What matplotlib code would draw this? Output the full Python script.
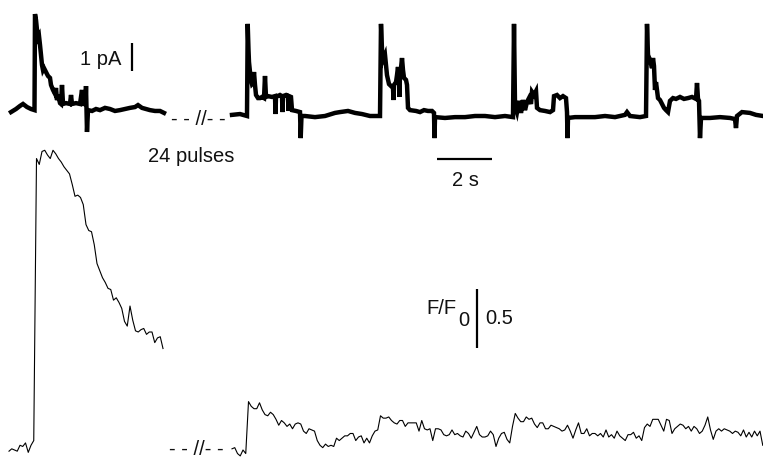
import numpy as np
import matplotlib
matplotlib.use("Agg")
import matplotlib.pyplot as plt

# ---------------- data ----------------
# Single-channel current, left segment (time s from segment start, current pA)
cur_left_t = [0.073, 0.255, 0.40, 0.509, 0.655, 0.80, 0.927,
              0.945, 0.982, 1.018, 1.055, 1.091, 1.127, 1.164, 1.20, 1.236, 1.273,
              1.345, 1.418, 1.491, 1.527, 1.60, 1.673, 1.709, 1.745, 1.782, 1.855,
              1.891, 1.927, 1.964, 2.073, 2.218, 2.255, 2.291, 2.436, 2.582, 2.655,
              2.691, 2.782, 2.80, 2.836, 2.873, 3.018, 3.164, 3.309, 3.491, 3.673,
              3.855, 4.036, 4.218, 4.40, 4.582, 4.691, 4.836, 4.982, 5.127, 5.309,
              5.491, 5.636]
cur_left_pA = [0.14, 0.25, 0.36, 0.43, 0.32, 0.25, 0.21,
               3.64, 3.43, 3.07, 2.79, 2.86, 2.54, 2.18, 1.82, 1.64, 1.71,
               1.57, 1.43, 1.36, 1.11, 0.93, 0.79, 1.00, 0.57, 0.75, 0.46,
               0.43, 1.11, 0.43, 0.46, 0.43, 0.75, 0.43, 0.46, 0.43, 0.93,
               0.43, 0.43, 1.07, -0.57, 0.21, 0.18, 0.25, 0.21, 0.29, 0.25,
               0.18, 0.21, 0.25, 0.29, 0.32, 0.39, 0.29, 0.25, 0.21, 0.18,
               0.18, 0.11]

# Single-channel current, right segment
cur_right_t = [0, 0.291, 0.545, 0.571, 0.60, 0.618, 0.655, 0.691, 0.727, 0.764,
               0.80, 0.836, 0.873, 0.945, 1.018, 1.091, 1.164, 1.20, 1.236, 1.309,
               1.455, 1.564, 1.582, 1.60, 1.745, 1.818, 1.836, 1.855, 1.964, 2.036,
               2.055, 2.073, 2.145, 2.182, 2.327, 2.473, 2.498, 2.527, 2.655, 3.018,
               3.382, 3.745, 3.927, 4.218, 4.473, 4.727, 5.018, 5.382, 5.418, 5.455,
               5.491, 5.564, 5.60, 5.636, 5.709, 5.782, 5.855, 5.873, 5.891, 5.964,
               6.0, 6.036, 6.073, 6.091, 6.109, 6.145, 6.182, 6.218, 6.255, 6.327,
               6.364, 6.40, 6.473, 6.691, 6.836, 6.982, 7.127, 7.273, 7.345, 7.364,
               7.382, 7.745, 8.109, 8.473, 8.836, 9.20, 9.564, 9.927, 10.218, 10.255,
               10.291, 10.364, 10.436, 10.509, 10.582, 10.655, 10.727, 10.80, 10.873, 10.909,
               10.982, 11.055, 11.091, 11.20, 11.382, 11.564, 11.673, 11.709, 11.818, 11.927,
               12.036, 12.145, 12.182, 12.20, 12.218, 12.473, 12.836, 13.20, 13.564, 13.927,
               14.291, 14.364, 14.473, 14.836, 15.055, 15.091, 15.127, 15.20, 15.273, 15.309,
               15.345, 15.382, 15.418, 15.491, 15.564, 15.636, 15.709, 15.782, 15.855, 15.927,
               16.036, 16.145, 16.291, 16.436, 16.582, 16.727, 16.873, 16.909, 16.945, 16.982,
               17.018, 17.055, 17.382, 17.745, 18.109, 18.291, 18.327, 18.364, 18.545, 18.836,
               19.055, 19.309]
cur_right_pA = [0.04, 0.07, 0.00, 3.29, 2.36, 1.93, 1.57, 1.29, 1.14, 1.18,
                1.57, 1.11, 0.75, 0.64, 0.64, 0.68, 0.64, 1.43, 0.68, 0.71,
                0.68, 0.71, 0.07, 0.68, 0.75, 0.71, 0.14, 0.71, 0.75, 0.71,
                0.18, 0.71, 0.68, 0.21, 0.18, 0.14, -0.79, 0.00, 0.00, -0.04,
                0.00, 0.11, 0.14, 0.18, 0.11, 0.07, 0.00, 0.00, 3.29, 2.36,
                2.00, 2.18, 1.82, 1.46, 1.14, 1.07, 1.00, 0.57, 1.11, 1.21,
                1.46, 1.75, 1.29, 0.68, 1.57, 1.71, 2.07, 1.64, 1.36, 1.29,
                1.11, 0.29, 0.21, 0.18, 0.14, 0.21, 0.18, 0.18, 0.11, -0.79,
                -0.04, -0.07, -0.04, -0.04, 0.00, 0.00, -0.04, 0.00, -0.04, 3.29,
                0.39, 0.14, 0.54, 0.11, 0.57, 0.21, 0.50, 0.64, 0.43, 0.86,
                0.75, 0.89, 0.29, 0.21, 0.18, 0.14, 0.21, 0.71, 0.75, 0.64,
                0.71, 0.64, 0.14, -0.79, -0.07, -0.04, -0.04, -0.04, 0.00, -0.04,
                0.04, 0.14, 0.00, -0.04, 0.00, 3.29, 2.18, 2.00, 1.71, 2.07,
                1.79, 0.93, 1.21, 0.64, 0.57, 0.43, 0.29, 0.21, 0.14, 0.54,
                0.64, 0.61, 0.68, 0.61, 0.64, 0.68, 0.61, 1.18, 0.61, 0.54,
                -0.79, -0.07, -0.07, -0.04, -0.07, -0.11, -0.43, 0.00, 0.14, 0.11,
                0.04, 0.00]

# Fluorescence F/F0, sampled every 0.1 s
dff_dt = 0.1
dff_left = [0.99, 1.01, 1.00, 0.99, 1.04, 1.03, 1.06, 0.98, 1.04, 1.08,
            3.47, 3.42, 3.53, 3.54, 3.50, 3.47, 3.54, 3.51, 3.47, 3.44,
            3.40, 3.37, 3.34, 3.25, 3.15, 3.16, 3.14, 3.08, 2.91, 2.86,
            2.85, 2.74, 2.58, 2.52, 2.46, 2.42, 2.37, 2.36, 2.27, 2.29,
            2.25, 2.20, 2.09, 2.05, 2.22, 2.10, 2.01, 2.00, 2.02, 2.03,
            1.98, 2.00, 2.00, 1.91, 1.95, 1.96, 1.86]
dff_right = [1.01, 1.02, 0.97, 0.95, 1.00, 0.97, 1.41, 1.37, 1.35, 1.35,
             1.40, 1.34, 1.30, 1.29, 1.32, 1.30, 1.26, 1.21, 1.25, 1.23,
             1.20, 1.22, 1.18, 1.22, 1.23, 1.22, 1.16, 1.14, 1.18, 1.17,
             1.16, 1.08, 1.04, 1.02, 1.05, 1.03, 1.04, 1.03, 1.10, 1.08,
             1.10, 1.12, 1.12, 1.14, 1.14, 1.08, 1.11, 1.12, 1.06, 1.10,
             1.06, 1.12, 1.16, 1.17, 1.29, 1.27, 1.27, 1.28, 1.25, 1.23,
             1.22, 1.25, 1.25, 1.20, 1.23, 1.23, 1.23, 1.23, 1.16, 1.25,
             1.18, 1.17, 1.18, 1.08, 1.18, 1.18, 1.17, 1.13, 1.12, 1.13,
             1.17, 1.13, 1.14, 1.12, 1.11, 1.16, 1.14, 1.10, 1.15, 1.20,
             1.13, 1.11, 1.11, 1.12, 1.16, 1.13, 1.03, 1.10, 1.14, 1.15,
             1.09, 1.06, 1.20, 1.31, 1.27, 1.24, 1.24, 1.28, 1.26, 1.27,
             1.22, 1.19, 1.23, 1.23, 1.18, 1.18, 1.21, 1.20, 1.19, 1.18,
             1.16, 1.17, 1.21, 1.16, 1.10, 1.17, 1.23, 1.14, 1.14, 1.18,
             1.12, 1.14, 1.14, 1.12, 1.14, 1.11, 1.17, 1.11, 1.13, 1.10,
             1.16, 1.12, 1.10, 1.08, 1.13, 1.13, 1.15, 1.10, 1.12, 1.08,
             1.19, 1.22, 1.20, 1.26, 1.26, 1.26, 1.21, 1.16, 1.26, 1.25,
             1.14, 1.18, 1.20, 1.22, 1.21, 1.18, 1.20, 1.16, 1.20, 1.18,
             1.14, 1.16, 1.21, 1.28, 1.17, 1.09, 1.16, 1.18, 1.16, 1.18,
             1.17, 1.16, 1.14, 1.16, 1.15, 1.12, 1.17, 1.11, 1.15, 1.11,
             1.16, 1.12, 1.16, 1.04]

labels = {"current_bar": "1 pA", "time_bar": "2 s", "dff_bar": "0.5",
          "pulses": "24 pulses", "break": "- - //- -"}
bar_sizes = {"current": 1.0, "time": 2.0, "dff": 0.5}

# ---------------- layout ----------------
W, H = 763, 459
PX_PER_S = 27.5
LEFT_X0 = 9 / PX_PER_S        # canvas time of left segments
RIGHT_X0 = 232 / PX_PER_S     # canvas time of right segments

plt.rcParams["font.family"] = ["Liberation Sans", "DejaVu Sans"]
fig = plt.figure(figsize=(W / 100, H / 100), dpi=100)
ax_i = fig.add_axes([0, 0, 1, 1])
ax_f = fig.add_axes([0, 0, 1, 1])
for ax in (ax_i, ax_f):
    ax.set_xlim(0, W / PX_PER_S)
    ax.axis("off")
    ax.patch.set_alpha(0)
# current: baseline at pixel row 116, 28 px per pA
ax_i.set_ylim((116 - H) / 28, 116 / 28)
# F/F0: 1.0 at pixel row 450, 118 px per unit
ax_f.set_ylim(1 + (450 - H) / 118, 1 + 450 / 118)

k = "black"
ax_i.plot(LEFT_X0 + np.array(cur_left_t), cur_left_pA, color=k, lw=3.2,
          solid_joinstyle="miter")
ax_i.plot(RIGHT_X0 + np.array(cur_right_t), cur_right_pA, color=k, lw=3.2,
          solid_joinstyle="miter")

tl = LEFT_X0 + np.arange(len(dff_left)) * dff_dt
tr = RIGHT_X0 + np.arange(len(dff_right)) * dff_dt
ax_f.plot(tl, dff_left, color=k, lw=0.8)
ax_f.plot(tr, dff_right, color=k, lw=0.8)

# scale bars
x_pa = 132 / PX_PER_S
y_pa = (116 - 71) / 28
ax_i.plot([x_pa, x_pa], [y_pa, y_pa + bar_sizes["current"]], color=k, lw=1.6,
          solid_capstyle="butt")
x_s = 437 / PX_PER_S
y_s = (116 - 159) / 28
ax_i.plot([x_s, x_s + bar_sizes["time"]], [y_s, y_s], color=k, lw=1.6,
          solid_capstyle="butt")
x_f = 477 / PX_PER_S
y_f = 1 + (450 - 348) / 118
ax_f.plot([x_f, x_f], [y_f, y_f + bar_sizes["dff"]], color=k, lw=1.6,
          solid_capstyle="butt")

def ftxt(x, y, s, **kw):
    fig.text(x / W, 1 - y / H, s, fontsize=14.5, color="#111111", **kw)

ftxt(80, 65, labels["current_bar"], ha="left", va="baseline")
ftxt(148, 161.5, labels["pulses"], ha="left", va="baseline")
ftxt(465, 186, labels["time_bar"], ha="center", va="baseline")
ftxt(457, 314.5, "F/F", ha="right", va="baseline")
ftxt(458, 326.5, "0", ha="left", va="baseline")
ftxt(485, 324, labels["dff_bar"], ha="left", va="baseline")
ftxt(171, 125, labels["break"], ha="left", va="baseline")
ftxt(169, 455, labels["break"], ha="left", va="baseline")

fig.savefig("out.png", dpi=100)
